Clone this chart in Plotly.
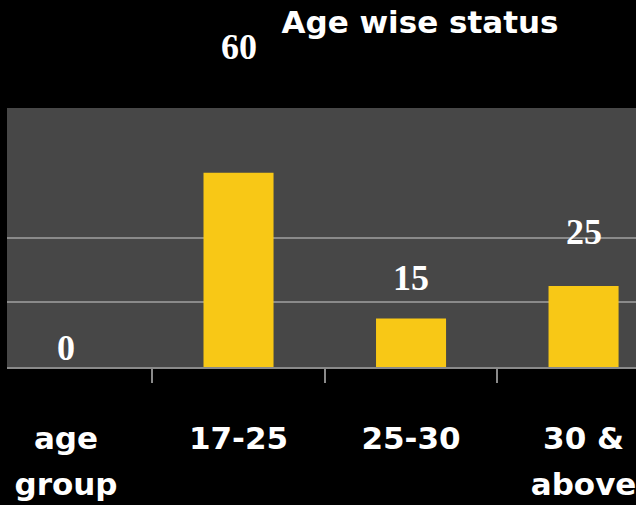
import plotly.graph_objects as go

categories = ["age<br>group", "17-25", "25-30", "30 &<br>above"]
values = [0, 60, 15, 25]
value_labels = ["0", "60", "15", "25"]
label_yshift = [19, 126, 40, 54]
grid_values = [20, 40, 80]
title_text = "Age wise status"

first_lines = [c.split("<br>")[0] for c in categories]
second_lines = [c.split("<br>")[1] if "<br>" in c else "" for c in categories]
positions = list(range(len(categories)))
boundaries = [p + 0.5 for p in positions[:-1]]

label_font = dict(family="DejaVu Sans", size=31, color="white", weight="bold")

fig = go.Figure()
fig.add_trace(go.Bar(
    x=positions, y=values, width=0.406,
    marker=dict(color="#F8C816", line=dict(color="#D6A81E", width=0)),
    hoverinfo="skip", showlegend=False,
))
# invisible helper trace so the second-line label axis is drawn
fig.add_trace(go.Scatter(
    x=positions, y=values, xaxis="x2", mode="markers",
    marker=dict(opacity=0), hoverinfo="skip", showlegend=False,
))

for p, v, t, s in zip(positions, values, value_labels, label_yshift):
    fig.add_annotation(x=p, y=v, text="<b>" + t + "</b>", showarrow=False, yanchor="middle",
                       yshift=s, xref="x", yref="y",
                       font=dict(family="Liberation Serif", size=36, color="white"))

fig.update_layout(
    width=636, height=505,
    margin=dict(l=7, r=0, t=108, b=138, autoexpand=False),
    paper_bgcolor="#000000", plot_bgcolor="#474747",
    title=dict(text=title_text, x=420 / 636, xanchor="center", xref="container",
               y=1 - 22 / 505, yanchor="middle", yref="container",
               font=label_font, automargin=False),
)

xrange = [-0.342, 3.304]
fig.update_layout(
    xaxis=dict(
        range=xrange, tickmode="array", tickvals=positions, ticktext=first_lines,
        ticks="", showline=True, linecolor="#8A8A8A", linewidth=2, showgrid=False,
        zeroline=False, ticklabelstandoff=43, tickfont=label_font, automargin=False,
        ticklabeloverflow="allow",
        minor=dict(tickmode="array", tickvals=boundaries, ticks="outside", ticklen=14,
                   tickwidth=1.5, tickcolor="#8A8A8A", showgrid=False),
    ),
    xaxis2=dict(
        overlaying="x", side="bottom", range=xrange, tickmode="array",
        tickvals=positions, ticktext=second_lines, ticks="", showline=False,
        showgrid=False, zeroline=False, ticklabelstandoff=96, tickfont=label_font,
        automargin=False, ticklabeloverflow="allow",
    ),
    yaxis=dict(
        range=[0, 80], tickvals=grid_values, showticklabels=False, showgrid=True,
        gridcolor="#8A8A8A", gridwidth=2, zeroline=False, showline=False,
        automargin=False,
    ),
)

fig.write_html("out.html", config={"displayModeBar": False},
               post_script="document.body.style.margin='0';")
